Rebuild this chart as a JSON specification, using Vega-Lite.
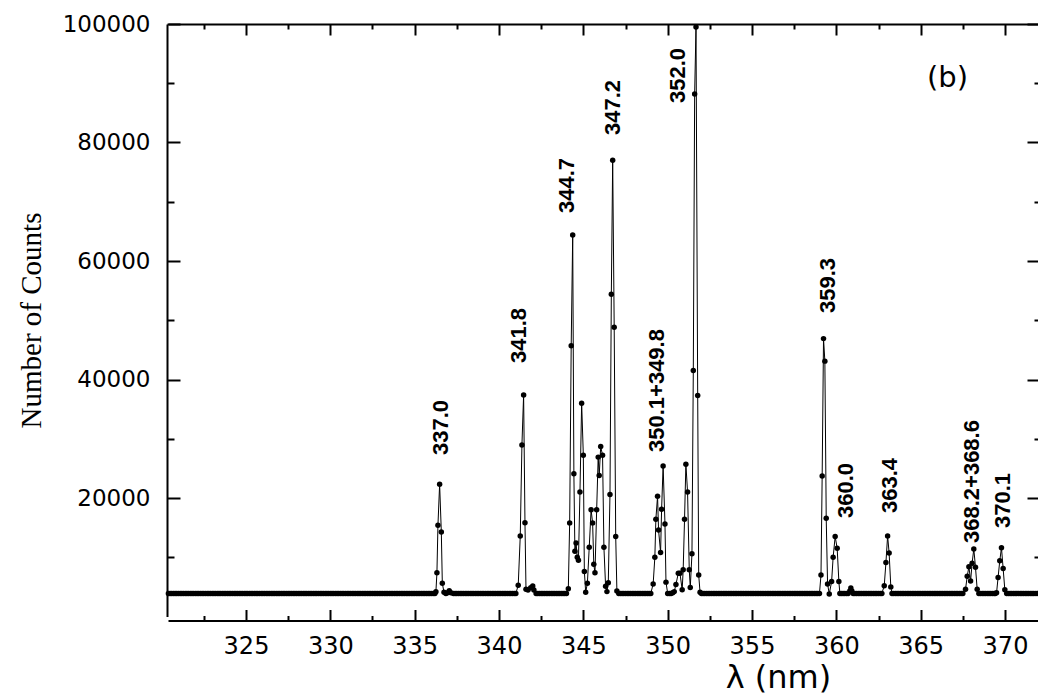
{
"$schema": "https://vega.github.io/schema/vega-lite/v6.json",
"width": 870,
"height": 592.5,
"autosize": {"type": "none"},
"padding": {"left": 168, "top": 24, "right": 0, "bottom": 81.5},
"config": {"view": {"stroke": null}, "axis": {"grid": false, "domainColor": "black", "tickColor": "black", "labelColor": "black", "titleColor": "black", "domainWidth": 2, "tickWidth": 2, "labelFont": "DejaVu Sans"}},
"resolve": {"axis": {"x": "independent", "y": "independent"}},
"data": {"values": [
{"w":320.4,"c":3900},{"w":320.5,"c":3900},{"w":320.6,"c":3900},{"w":320.7,"c":3900},{"w":320.8,"c":3900},{"w":320.9,"c":3900},
{"w":321.0,"c":3900},{"w":321.1,"c":3900},{"w":321.2,"c":3900},{"w":321.3,"c":3900},{"w":321.4,"c":3900},{"w":321.5,"c":3900},{"w":321.6,"c":3900},{"w":321.7,"c":3900},{"w":321.8,"c":3900},{"w":321.9,"c":3900},
{"w":322.0,"c":3900},{"w":322.1,"c":3900},{"w":322.2,"c":3900},{"w":322.3,"c":3900},{"w":322.4,"c":3900},{"w":322.5,"c":3900},{"w":322.6,"c":3900},{"w":322.7,"c":3900},{"w":322.8,"c":3900},{"w":322.9,"c":3900},
{"w":323.0,"c":3900},{"w":323.1,"c":3900},{"w":323.2,"c":3900},{"w":323.3,"c":3900},{"w":323.4,"c":3900},{"w":323.5,"c":3900},{"w":323.6,"c":3900},{"w":323.7,"c":3900},{"w":323.8,"c":3900},{"w":323.9,"c":3900},
{"w":324.0,"c":3900},{"w":324.1,"c":3900},{"w":324.2,"c":3900},{"w":324.3,"c":3900},{"w":324.4,"c":3900},{"w":324.5,"c":3900},{"w":324.6,"c":3900},{"w":324.7,"c":3900},{"w":324.8,"c":3900},{"w":324.9,"c":3900},
{"w":325.0,"c":3900},{"w":325.1,"c":3900},{"w":325.2,"c":3900},{"w":325.3,"c":3900},{"w":325.4,"c":3900},{"w":325.5,"c":3900},{"w":325.6,"c":3900},{"w":325.7,"c":3900},{"w":325.8,"c":3900},{"w":325.9,"c":3900},
{"w":326.0,"c":3900},{"w":326.1,"c":3900},{"w":326.2,"c":3900},{"w":326.3,"c":3900},{"w":326.4,"c":3900},{"w":326.5,"c":3900},{"w":326.6,"c":3900},{"w":326.7,"c":3900},{"w":326.8,"c":3900},{"w":326.9,"c":3900},
{"w":327.0,"c":3900},{"w":327.1,"c":3900},{"w":327.2,"c":3900},{"w":327.3,"c":3900},{"w":327.4,"c":3900},{"w":327.5,"c":3900},{"w":327.6,"c":3900},{"w":327.7,"c":3900},{"w":327.8,"c":3900},{"w":327.9,"c":3900},
{"w":328.0,"c":3900},{"w":328.1,"c":3900},{"w":328.2,"c":3900},{"w":328.3,"c":3900},{"w":328.4,"c":3900},{"w":328.5,"c":3900},{"w":328.6,"c":3900},{"w":328.7,"c":3900},{"w":328.8,"c":3900},{"w":328.9,"c":3900},
{"w":329.0,"c":3900},{"w":329.1,"c":3900},{"w":329.2,"c":3900},{"w":329.3,"c":3900},{"w":329.4,"c":3900},{"w":329.5,"c":3900},{"w":329.6,"c":3900},{"w":329.7,"c":3900},{"w":329.8,"c":3900},{"w":329.9,"c":3900},
{"w":330.0,"c":3900},{"w":330.1,"c":3900},{"w":330.2,"c":3900},{"w":330.3,"c":3900},{"w":330.4,"c":3900},{"w":330.5,"c":3900},{"w":330.6,"c":3900},{"w":330.7,"c":3900},{"w":330.8,"c":3900},{"w":330.9,"c":3900},
{"w":331.0,"c":3900},{"w":331.1,"c":3900},{"w":331.2,"c":3900},{"w":331.3,"c":3900},{"w":331.4,"c":3900},{"w":331.5,"c":3900},{"w":331.6,"c":3900},{"w":331.7,"c":3900},{"w":331.8,"c":3900},{"w":331.9,"c":3900},
{"w":332.0,"c":3900},{"w":332.1,"c":3900},{"w":332.2,"c":3900},{"w":332.3,"c":3900},{"w":332.4,"c":3900},{"w":332.5,"c":3900},{"w":332.6,"c":3900},{"w":332.7,"c":3900},{"w":332.8,"c":3900},{"w":332.9,"c":3900},
{"w":333.0,"c":3900},{"w":333.1,"c":3900},{"w":333.2,"c":3900},{"w":333.3,"c":3900},{"w":333.4,"c":3900},{"w":333.5,"c":3900},{"w":333.6,"c":3900},{"w":333.7,"c":3900},{"w":333.8,"c":3900},{"w":333.9,"c":3900},
{"w":334.0,"c":3900},{"w":334.1,"c":3900},{"w":334.2,"c":3900},{"w":334.3,"c":3900},{"w":334.4,"c":3900},{"w":334.5,"c":3900},{"w":334.6,"c":3900},{"w":334.7,"c":3900},{"w":334.8,"c":3900},{"w":334.9,"c":3900},
{"w":335.0,"c":3900},{"w":335.1,"c":3900},{"w":335.2,"c":3900},{"w":335.3,"c":3900},{"w":335.4,"c":3900},{"w":335.5,"c":3900},{"w":335.6,"c":3900},{"w":335.7,"c":3900},{"w":335.8,"c":3900},{"w":335.9,"c":3900},
{"w":336.0,"c":3900},{"w":336.1,"c":3900},{"w":336.2,"c":3900},
{"w":336.26,"c":4190},{"w":336.32,"c":7390},{"w":336.38,"c":15390},{"w":336.48,"c":22310},{"w":336.58,"c":14260},{"w":336.64,"c":5600},{"w":336.74,"c":4080},
{"w":336.85,"c":3900},{"w":336.95,"c":4000},{"w":337.05,"c":4350},{"w":337.15,"c":4000},
{"w":337.3,"c":3900},{"w":337.4,"c":3900},{"w":337.5,"c":3900},{"w":337.6,"c":3900},{"w":337.7,"c":3900},{"w":337.8,"c":3900},{"w":337.9,"c":3900},
{"w":338.0,"c":3900},{"w":338.1,"c":3900},{"w":338.2,"c":3900},{"w":338.3,"c":3900},{"w":338.4,"c":3900},{"w":338.5,"c":3900},{"w":338.6,"c":3900},{"w":338.7,"c":3900},{"w":338.8,"c":3900},{"w":338.9,"c":3900},
{"w":339.0,"c":3900},{"w":339.1,"c":3900},{"w":339.2,"c":3900},{"w":339.3,"c":3900},{"w":339.4,"c":3900},{"w":339.5,"c":3900},{"w":339.6,"c":3900},{"w":339.7,"c":3900},{"w":339.8,"c":3900},{"w":339.9,"c":3900},
{"w":340.0,"c":3900},{"w":340.1,"c":3900},{"w":340.2,"c":3900},{"w":340.3,"c":3900},{"w":340.4,"c":3900},{"w":340.5,"c":3900},{"w":340.6,"c":3900},{"w":340.7,"c":3900},{"w":340.8,"c":3900},{"w":340.9,"c":3900},
{"w":341.0,"c":3900},
{"w":341.14,"c":5270},{"w":341.26,"c":13590},{"w":341.36,"c":28950},{"w":341.46,"c":37380},{"w":341.54,"c":15830},{"w":341.6,"c":4590},{"w":341.72,"c":4470},{"w":341.88,"c":4860},{"w":342.0,"c":5150},{"w":342.07,"c":4470},
{"w":342.2,"c":3900},{"w":342.3,"c":3900},{"w":342.4,"c":3900},{"w":342.5,"c":3900},{"w":342.6,"c":3900},{"w":342.7,"c":3900},{"w":342.8,"c":3900},{"w":342.9,"c":3900},
{"w":343.0,"c":3900},{"w":343.1,"c":3900},{"w":343.2,"c":3900},{"w":343.3,"c":3900},{"w":343.4,"c":3900},{"w":343.5,"c":3900},{"w":343.6,"c":3900},{"w":343.7,"c":3900},{"w":343.8,"c":3900},{"w":343.9,"c":3900},
{"w":344.0,"c":3900},
{"w":344.11,"c":4700},{"w":344.19,"c":15800},{"w":344.28,"c":45700},{"w":344.37,"c":64400},{"w":344.44,"c":24100},{"w":344.5,"c":11000},{"w":344.57,"c":12400},{"w":344.64,"c":10000},{"w":344.71,"c":9500},{"w":344.8,"c":21000},{"w":344.9,"c":36000},{"w":345.0,"c":27200},{"w":345.06,"c":7600},{"w":345.14,"c":4100},{"w":345.24,"c":5600},{"w":345.35,"c":11700},{"w":345.46,"c":18000},{"w":345.55,"c":15800},{"w":345.62,"c":8800},{"w":345.69,"c":7400},{"w":345.79,"c":18000},{"w":345.88,"c":26900},{"w":345.94,"c":23800},{"w":346.03,"c":28700},{"w":346.14,"c":27200},{"w":346.22,"c":11700},{"w":346.32,"c":5100},{"w":346.4,"c":4200},{"w":346.48,"c":5700},{"w":346.58,"c":20600},{"w":346.66,"c":54400},{"w":346.74,"c":77000},{"w":346.83,"c":48800},{"w":346.92,"c":13500},{"w":346.99,"c":4300},
{"w":347.1,"c":3900},{"w":347.2,"c":3900},{"w":347.3,"c":3900},{"w":347.4,"c":3900},{"w":347.5,"c":3900},{"w":347.6,"c":3900},{"w":347.7,"c":3900},{"w":347.8,"c":3900},{"w":347.9,"c":3900},
{"w":348.0,"c":3900},{"w":348.1,"c":3900},{"w":348.2,"c":3900},{"w":348.3,"c":3900},{"w":348.4,"c":3900},{"w":348.5,"c":3900},{"w":348.6,"c":3900},{"w":348.7,"c":3900},{"w":348.8,"c":3900},{"w":348.9,"c":3900},
{"w":349.0,"c":3900},
{"w":349.14,"c":5500},{"w":349.24,"c":10000},{"w":349.3,"c":16400},{"w":349.4,"c":20300},{"w":349.46,"c":14600},{"w":349.58,"c":10800},{"w":349.64,"c":18100},{"w":349.73,"c":25400},{"w":349.84,"c":15600},{"w":349.9,"c":5800},{"w":350.0,"c":3900},{"w":350.1,"c":3900},{"w":350.2,"c":3900},{"w":350.3,"c":4000},{"w":350.39,"c":4200},{"w":350.49,"c":5400},{"w":350.63,"c":7300},{"w":350.73,"c":7300},{"w":350.86,"c":4500},{"w":350.92,"c":7900},{"w":351.0,"c":16400},{"w":351.08,"c":25700},{"w":351.18,"c":21000},{"w":351.28,"c":7900},{"w":351.34,"c":4900},{"w":351.44,"c":10600},{"w":351.52,"c":41500},{"w":351.6,"c":88200},{"w":351.68,"c":99500},{"w":351.78,"c":37300},{"w":351.84,"c":7000},{"w":351.92,"c":4100},
{"w":352.0,"c":3900},{"w":352.1,"c":3900},{"w":352.2,"c":3900},{"w":352.3,"c":3900},{"w":352.4,"c":3900},{"w":352.5,"c":3900},{"w":352.6,"c":3900},{"w":352.7,"c":3900},{"w":352.8,"c":3900},{"w":352.9,"c":3900},
{"w":353.0,"c":3900},{"w":353.1,"c":3900},{"w":353.2,"c":3900},{"w":353.3,"c":3900},{"w":353.4,"c":3900},{"w":353.5,"c":3900},{"w":353.6,"c":3900},{"w":353.7,"c":3900},{"w":353.8,"c":3900},{"w":353.9,"c":3900},
{"w":354.0,"c":3900},{"w":354.1,"c":3900},{"w":354.2,"c":3900},{"w":354.3,"c":3900},{"w":354.4,"c":3900},{"w":354.5,"c":3900},{"w":354.6,"c":3900},{"w":354.7,"c":3900},{"w":354.8,"c":3900},{"w":354.9,"c":3900},
{"w":355.0,"c":3900},{"w":355.1,"c":3900},{"w":355.2,"c":3900},{"w":355.3,"c":3900},{"w":355.4,"c":3900},{"w":355.5,"c":3900},{"w":355.6,"c":3900},{"w":355.7,"c":3900},{"w":355.8,"c":3900},{"w":355.9,"c":3900},
{"w":356.0,"c":3900},{"w":356.1,"c":3900},{"w":356.2,"c":3900},{"w":356.3,"c":3900},{"w":356.4,"c":3900},{"w":356.5,"c":3900},{"w":356.6,"c":3900},{"w":356.7,"c":3900},{"w":356.8,"c":3900},{"w":356.9,"c":3900},
{"w":357.0,"c":3900},{"w":357.1,"c":3900},{"w":357.2,"c":3900},{"w":357.3,"c":3900},{"w":357.4,"c":3900},{"w":357.5,"c":3900},{"w":357.6,"c":3900},{"w":357.7,"c":3900},{"w":357.8,"c":3900},{"w":357.9,"c":3900},
{"w":358.0,"c":3900},{"w":358.1,"c":3900},{"w":358.2,"c":3900},{"w":358.3,"c":3900},{"w":358.4,"c":3900},{"w":358.5,"c":3900},{"w":358.6,"c":3900},{"w":358.7,"c":3900},{"w":358.8,"c":3900},{"w":358.9,"c":3900},
{"w":359.0,"c":3900},
{"w":359.09,"c":7000},{"w":359.16,"c":23700},{"w":359.24,"c":46900},{"w":359.32,"c":43100},{"w":359.4,"c":16600},{"w":359.48,"c":5500},{"w":359.58,"c":3800},{"w":359.72,"c":5900},{"w":359.81,"c":10000},{"w":359.93,"c":13500},{"w":360.05,"c":11500},{"w":360.15,"c":5900},{"w":360.21,"c":3900},
{"w":360.3,"c":3900},{"w":360.4,"c":3900},{"w":360.5,"c":3900},{"w":360.6,"c":3900},{"w":360.7,"c":3900},{"w":360.8,"c":4300},{"w":360.86,"c":4800},{"w":360.92,"c":4300},
{"w":361.0,"c":3900},{"w":361.1,"c":3900},{"w":361.2,"c":3900},{"w":361.3,"c":3900},{"w":361.4,"c":3900},{"w":361.5,"c":3900},{"w":361.6,"c":3900},{"w":361.7,"c":3900},{"w":361.8,"c":3900},{"w":361.9,"c":3900},
{"w":362.0,"c":3900},{"w":362.1,"c":3900},{"w":362.2,"c":3900},{"w":362.3,"c":3900},{"w":362.4,"c":3900},{"w":362.5,"c":3900},{"w":362.6,"c":3900},{"w":362.7,"c":3900},
{"w":362.84,"c":5200},{"w":362.94,"c":9100},{"w":363.04,"c":13600},{"w":363.13,"c":10700},{"w":363.23,"c":5000},
{"w":363.3,"c":3900},{"w":363.4,"c":3900},{"w":363.5,"c":3900},{"w":363.6,"c":3900},{"w":363.7,"c":3900},{"w":363.8,"c":3900},{"w":363.9,"c":3900},
{"w":364.0,"c":3900},{"w":364.1,"c":3900},{"w":364.2,"c":3900},{"w":364.3,"c":3900},{"w":364.4,"c":3900},{"w":364.5,"c":3900},{"w":364.6,"c":3900},{"w":364.7,"c":3900},{"w":364.8,"c":3900},{"w":364.9,"c":3900},
{"w":365.0,"c":3900},{"w":365.1,"c":3900},{"w":365.2,"c":3900},{"w":365.3,"c":3900},{"w":365.4,"c":3900},{"w":365.5,"c":3900},{"w":365.6,"c":3900},{"w":365.7,"c":3900},{"w":365.8,"c":3900},{"w":365.9,"c":3900},
{"w":366.0,"c":3900},{"w":366.1,"c":3900},{"w":366.2,"c":3900},{"w":366.3,"c":3900},{"w":366.4,"c":3900},{"w":366.5,"c":3900},{"w":366.6,"c":3900},{"w":366.7,"c":3900},{"w":366.8,"c":3900},{"w":366.9,"c":3900},
{"w":367.0,"c":3900},{"w":367.1,"c":3900},{"w":367.2,"c":3900},{"w":367.3,"c":3900},{"w":367.4,"c":3900},{"w":367.5,"c":3900},
{"w":367.66,"c":4600},{"w":367.76,"c":6800},{"w":367.86,"c":8400},{"w":367.96,"c":6000},{"w":368.05,"c":9000},{"w":368.15,"c":11400},{"w":368.25,"c":8300},{"w":368.35,"c":4600},
{"w":368.45,"c":3900},{"w":368.55,"c":3900},{"w":368.65,"c":3900},{"w":368.75,"c":3900},{"w":368.85,"c":3900},{"w":368.95,"c":3900},{"w":369.05,"c":3900},{"w":369.15,"c":3900},{"w":369.25,"c":3900},{"w":369.35,"c":3900},{"w":369.42,"c":3900},
{"w":369.5,"c":4000},{"w":369.59,"c":6600},{"w":369.69,"c":9400},{"w":369.79,"c":11600},{"w":369.89,"c":8100},{"w":369.99,"c":4500},
{"w":370.1,"c":3900},{"w":370.2,"c":3900},{"w":370.3,"c":3900},{"w":370.4,"c":3900},{"w":370.5,"c":3900},{"w":370.6,"c":3900},{"w":370.7,"c":3900},{"w":370.8,"c":3900},{"w":370.9,"c":3900},
{"w":371.0,"c":3900},{"w":371.1,"c":3900},{"w":371.2,"c":3900},{"w":371.3,"c":3900},{"w":371.4,"c":3900},{"w":371.5,"c":3900},{"w":371.6,"c":3900},{"w":371.7,"c":3900},{"w":371.8,"c":3900},{"w":371.9,"c":3900}
]},
"layer": [
{
"mark": {"type": "line", "color": "black", "strokeWidth": 1},
"encoding": {
"x": {"field": "w", "type": "quantitative", "scale": {"domain": [320.376, 371.956], "nice": false, "zero": false},
"axis": {"orient": "bottom", "values": [325,330,335,340,345,350,355,360,365,370], "offset": 4, "tickSize": -11, "labelPadding": 25, "labelFontSize": 24, "labelFlush": false, "labelOverlap": false, "title": "λ (nm)", "titleFont": "DejaVu Sans", "titleFontSize": 32, "titleFontWeight": "normal", "titleX": 610, "titleY": 67, "titleBaseline": "alphabetic", "titleAlign": "center", "titleAnchor": null}},
"y": {"field": "c", "type": "quantitative", "scale": {"domain": [0, 100000], "nice": false, "zero": true},
"axis": {"orient": "left", "values": [20000,40000,60000,80000,100000], "format": "d", "offset": 1, "tickSize": -13, "labelPadding": 30, "labelFontSize": 23, "labelFlush": false, "labelOverlap": false, "title": "Number of Counts", "titleFont": "Liberation Serif", "titleFontSize": 29, "titleFontWeight": "normal", "titleX": -127, "titleY": 296, "titleAngle": -90, "titleBaseline": "alphabetic", "titleAlign": "center", "titleAnchor": null}}
}
},
{
"mark": {"type": "point", "filled": true, "color": "black", "size": 30, "opacity": 1},
"encoding": {
"x": {"field": "w", "type": "quantitative", "axis": {"orient": "bottom", "values": [322.5,327.5,332.5,337.5,342.5,347.5,352.5,357.5,362.5,367.5], "offset": 4, "tickSize": -5, "labels": false, "domain": false, "title": null}},
"y": {"field": "c", "type": "quantitative", "axis": {"orient": "left", "values": [10000,30000,50000,70000,90000], "offset": 1, "tickSize": -7, "labels": false, "domain": false, "title": null}}
}
},
{
"data": {"values": [
{"w": 336.561, "c": 27257, "t": "337.0"},
{"w": 341.185, "c": 42785, "t": "341.8"},
{"w": 344.061, "c": 68101, "t": "344.7"},
{"w": 346.758, "c": 81266, "t": "347.2"},
{"w": 350.612, "c": 86667, "t": "352.0"},
{"w": 349.367, "c": 27764, "t": "350.1+349.8"},
{"w": 359.504, "c": 51224, "t": "359.3"},
{"w": 360.571, "c": 16624, "t": "360.0"},
{"w": 363.18, "c": 17468, "t": "363.4"},
{"w": 368.042, "c": 12405, "t": "368.2+368.6"},
{"w": 369.88, "c": 14937, "t": "370.1"}
]},
"mark": {"type": "text", "angle": 270, "align": "left", "baseline": "middle", "font": "Liberation Sans", "fontWeight": "bold", "fontSize": 22, "color": "black"},
"encoding": {
"x": {"field": "w", "type": "quantitative", "axis": {"orient": "top", "values": [325,330,335,340,345,350,355,360,365,370], "tickSize": -11, "labels": false, "domain": true, "title": null}},
"y": {"field": "c", "type": "quantitative", "axis": {"orient": "right", "values": [20000,40000,60000,80000,100000], "tickSize": -11, "labels": false, "domain": false, "title": null}},
"text": {"field": "t"}
}
},
{
"data": {"values": [{"w": 366.59, "c": 90890, "t": "(b)"}]},
"mark": {"type": "text", "align": "center", "baseline": "middle", "font": "DejaVu Sans", "fontSize": 29, "color": "black"},
"encoding": {
"x": {"field": "w", "type": "quantitative", "axis": {"orient": "top", "values": [322.5,327.5,332.5,337.5,342.5,347.5,352.5,357.5,362.5,367.5], "tickSize": -5, "labels": false, "domain": false, "title": null}},
"y": {"field": "c", "type": "quantitative", "axis": {"orient": "right", "values": [10000,30000,50000,70000,90000], "tickSize": -4, "labels": false, "domain": false, "title": null}},
"text": {"field": "t"}
}
}
]
}
